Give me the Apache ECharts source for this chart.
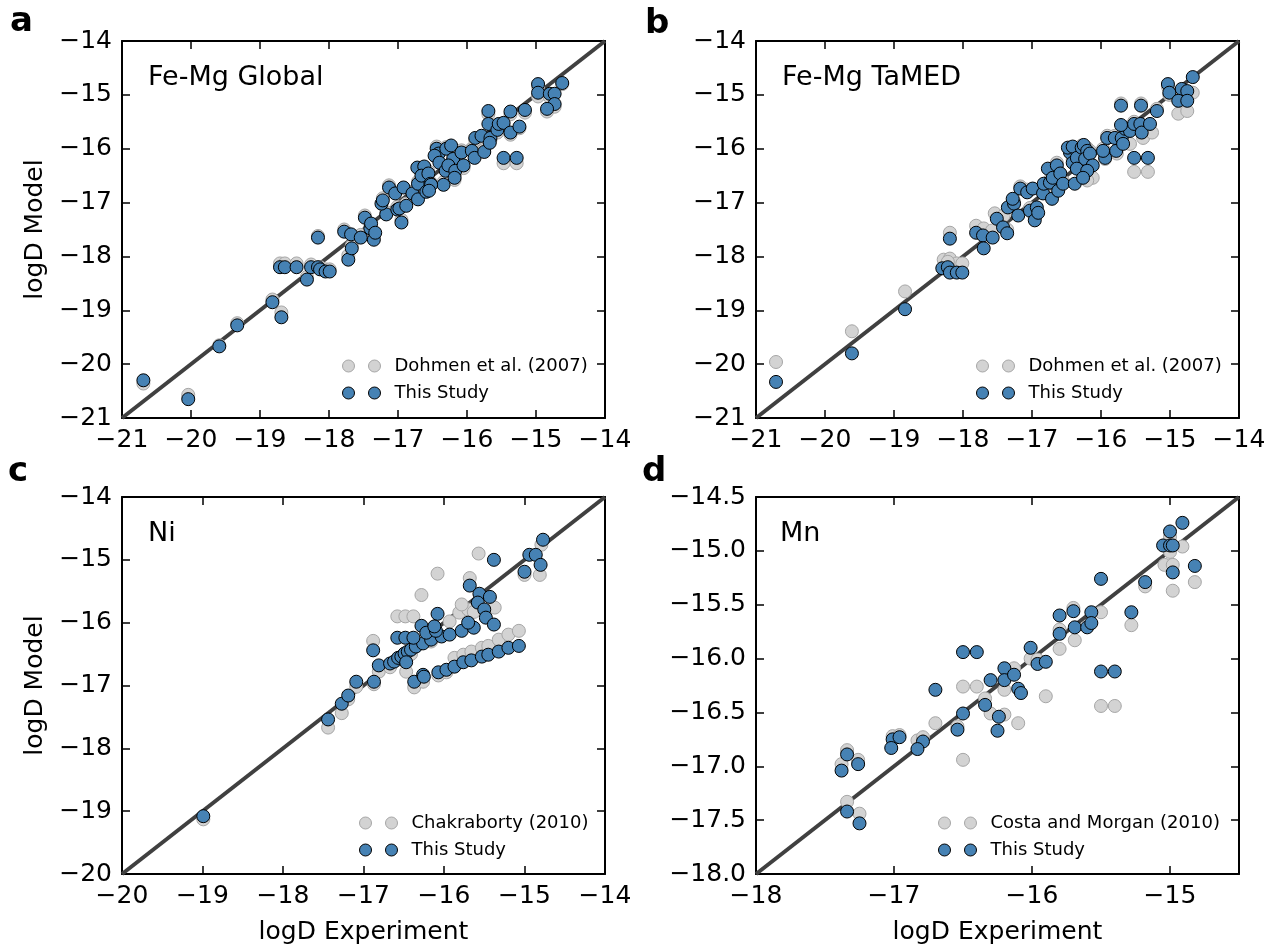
<!DOCTYPE html>
<html>
<head>
<meta charset="utf-8">
<title>logD model vs experiment</title>
<script src="https://cdn.jsdelivr.net/npm/echarts@6/dist/echarts.min.js"></script>
<style>
  html, body { margin: 0; padding: 0; background: #ffffff; }
  #chart { width: 1279px; height: 952px; }
</style>
</head>
<body>
<div id="chart"></div>
<script>
// ---- Panel a: Fe-Mg Global (logD experiment, logD model) ----
const feMgGlobalStudy = [
  [-20.69,-20.30],[-20.04,-20.65],[-19.59,-19.67],[-19.33,-19.28],[-18.82,-18.85],[-18.69,-19.13],
  [-18.71,-18.20],[-18.64,-18.20],[-18.47,-18.20],[-18.32,-18.43],[-18.26,-18.20],[-18.16,-17.65],
  [-18.16,-18.20],[-18.13,-18.24],[-18.05,-18.28],[-17.99,-18.28],[-17.78,-17.54],[-17.72,-18.06],
  [-17.67,-17.85],[-17.68,-17.59],[-17.54,-17.65],[-17.48,-17.28],[-17.40,-17.48],[-17.39,-17.39],
  [-17.35,-17.69],[-17.33,-17.56],[-17.17,-17.22],[-17.24,-17.02],[-17.22,-16.96],[-17.13,-16.72],
  [-17.04,-16.83],[-17.01,-17.13],[-16.95,-17.37],[-16.92,-16.72],[-16.98,-17.11],[-16.88,-17.06],
  [-16.79,-16.83],[-16.71,-16.65],[-16.72,-16.35],[-16.62,-16.33],[-16.66,-16.50],[-16.56,-16.46],
  [-16.53,-16.65],[-16.71,-16.94],[-16.59,-16.80],[-16.34,-16.67],[-16.44,-16.00],[-16.41,-16.09],
  [-16.47,-16.13],[-16.40,-16.26],[-16.30,-16.00],[-16.23,-15.94],[-16.20,-16.19],[-16.31,-16.41],
  [-16.27,-16.31],[-16.17,-16.41],[-16.08,-16.07],[-16.05,-16.31],[-16.18,-16.54],[-15.93,-16.04],
  [-15.89,-16.17],[-15.75,-16.06],[-15.88,-15.80],[-15.79,-15.76],[-15.66,-15.80],[-15.67,-15.89],
  [-15.69,-15.30],[-15.69,-15.54],[-15.56,-15.65],[-15.54,-15.54],[-15.47,-15.52],[-15.37,-15.31],
  [-15.37,-15.70],[-15.24,-15.59],[-15.16,-15.28],[-15.47,-16.17],[-15.28,-16.17],[-14.97,-14.80],
  [-14.97,-14.96],[-14.80,-14.98],[-14.73,-14.98],[-14.73,-15.17],[-14.84,-15.26],[-14.62,-14.78],
  [-16.52,-16.67],[-16.55,-16.78]
];
const feMgGlobalDohmen = [
  [-20.69,-20.36],[-20.04,-20.57],[-19.59,-19.65],[-19.33,-19.24],[-18.82,-18.80],[-18.69,-19.04],
  [-18.71,-18.13],[-18.64,-18.13],[-18.47,-18.13],[-18.32,-18.38],[-18.26,-18.15],[-18.16,-17.62],
  [-18.13,-18.20],[-18.05,-18.24],[-17.99,-18.24],[-17.78,-17.50],[-17.72,-17.98],[-17.67,-17.80],
  [-17.54,-17.60],[-17.48,-17.24],[-17.40,-17.44],[-17.35,-17.64],[-17.17,-17.18],[-17.22,-16.92],
  [-17.13,-16.68],[-17.01,-17.08],[-16.95,-17.32],[-16.88,-17.02],[-16.79,-16.80],[-16.71,-16.61],
  [-16.66,-16.45],[-16.56,-16.42],[-16.53,-16.62],[-16.59,-16.76],[-16.34,-16.62],[-16.44,-15.96],
  [-16.30,-15.97],[-16.20,-16.15],[-16.27,-16.36],[-16.17,-16.46],[-16.08,-16.03],[-16.05,-16.36],
  [-16.18,-16.58],[-15.93,-16.00],[-15.75,-16.02],[-15.88,-15.84],[-15.66,-15.84],[-15.69,-15.36],
  [-15.56,-15.70],[-15.47,-15.57],[-15.37,-15.36],[-15.37,-15.74],[-15.24,-15.62],[-15.16,-15.33],
  [-15.47,-16.27],[-15.28,-16.27],[-14.97,-14.85],[-14.97,-15.03],[-14.80,-15.04],[-14.73,-15.22],
  [-14.84,-15.31],[-14.62,-14.80]
];

// ---- Panel b: Fe-Mg TaMED ----
const feMgTamedStudy = [
  [-20.71,-20.33],[-19.61,-19.80],[-18.84,-18.98],[-18.19,-17.67],[-18.30,-18.22],[-18.22,-18.20],
  [-18.19,-18.30],[-18.09,-18.30],[-18.01,-18.30],[-17.81,-17.56],[-17.71,-17.61],[-17.70,-17.85],
  [-17.57,-17.65],[-17.51,-17.30],[-17.42,-17.46],[-17.36,-17.57],[-17.35,-17.09],[-17.26,-17.02],
  [-17.28,-16.93],[-17.20,-17.24],[-17.17,-16.74],[-17.07,-16.81],[-17.03,-17.15],[-16.96,-17.33],
  [-16.93,-17.09],[-16.91,-17.19],[-16.99,-16.74],[-16.84,-16.83],[-16.83,-16.65],[-16.74,-16.63],
  [-16.71,-16.93],[-16.77,-16.37],[-16.70,-16.54],[-16.64,-16.31],[-16.62,-16.78],[-16.59,-16.46],
  [-16.55,-16.65],[-16.45,-16.07],[-16.48,-15.98],[-16.41,-15.96],[-16.41,-16.26],[-16.35,-16.17],
  [-16.35,-16.37],[-16.28,-15.98],[-16.25,-15.93],[-16.20,-16.04],[-16.23,-16.19],[-16.16,-16.09],
  [-16.12,-16.31],[-16.20,-16.41],[-16.38,-16.65],[-16.26,-16.54],[-15.94,-16.17],[-15.97,-16.04],
  [-15.91,-15.80],[-15.80,-15.80],[-15.78,-16.04],[-15.70,-15.80],[-15.68,-15.91],[-15.65,-15.63],
  [-15.58,-15.67],[-15.71,-15.56],[-15.52,-15.54],[-15.43,-15.54],[-15.41,-15.70],[-15.29,-15.54],
  [-15.71,-15.20],[-15.42,-15.20],[-15.19,-15.30],[-15.52,-16.17],[-15.32,-16.17],[-15.03,-14.80],
  [-15.01,-14.96],[-14.83,-14.89],[-14.75,-14.93],[-14.88,-15.11],[-14.75,-15.11],[-14.67,-14.67]
];
const feMgTamedDohmen = [
  [-20.71,-19.96],[-19.61,-19.39],[-18.84,-18.65],[-18.19,-17.56],[-18.28,-18.06],[-18.19,-18.04],
  [-18.09,-18.13],[-18.01,-18.13],[-18.22,-18.10],[-17.81,-17.43],[-17.70,-17.48],[-17.54,-17.20],
  [-17.41,-17.24],[-17.58,-17.52],[-17.36,-17.50],[-17.26,-16.98],[-17.17,-16.70],[-17.07,-16.76],
  [-17.03,-17.10],[-16.96,-17.28],[-16.84,-16.78],[-16.74,-16.58],[-16.71,-16.88],[-16.64,-16.26],
  [-16.62,-16.72],[-16.55,-16.60],[-16.45,-16.02],[-16.41,-16.20],[-16.35,-16.32],[-16.28,-15.94],
  [-16.20,-15.99],[-16.16,-16.04],[-16.12,-16.54],[-16.20,-16.59],[-16.26,-16.48],[-15.94,-16.19],
  [-15.97,-16.00],[-15.91,-15.76],[-15.77,-16.09],[-15.80,-15.76],[-15.58,-15.91],[-15.70,-15.76],
  [-15.65,-15.60],[-15.52,-15.50],[-15.39,-15.80],[-15.26,-15.70],[-15.52,-16.43],[-15.32,-16.43],
  [-15.19,-15.26],[-15.03,-14.85],[-15.01,-15.00],[-14.88,-15.35],[-14.75,-15.30],[-14.67,-14.96],
  [-14.83,-14.95],[-15.71,-15.16],[-15.42,-15.16]
];

// ---- Panel c: Ni ----
const niStudy = [
  [-18.99,-19.08],[-17.44,-17.54],[-17.27,-17.29],[-17.19,-17.16],[-17.09,-16.94],[-16.87,-16.94],
  [-16.81,-16.68],[-16.88,-16.44],[-16.67,-16.65],[-16.62,-16.62],[-16.57,-16.56],[-16.53,-16.54],
  [-16.49,-16.49],[-16.45,-16.46],[-16.41,-16.43],[-16.35,-16.38],[-16.26,-16.33],[-16.16,-16.27],
  [-16.03,-16.22],[-15.93,-16.19],[-15.78,-16.13],[-15.63,-16.08],[-16.47,-16.63],[-16.58,-16.24],
  [-16.48,-16.24],[-16.38,-16.24],[-16.28,-16.05],[-16.22,-16.16],[-16.10,-16.13],[-16.08,-15.86],
  [-16.12,-16.06],[-15.70,-16.00],[-15.68,-15.41],[-15.56,-15.54],[-15.58,-15.68],[-15.43,-15.59],
  [-15.50,-15.79],[-15.48,-15.92],[-15.38,-16.03],[-15.38,-15.00],[-15.00,-15.19],[-14.94,-14.92],
  [-14.86,-14.92],[-14.80,-15.08],[-14.77,-14.68],
  [-16.37,-16.94],[-16.26,-16.83],[-16.25,-16.86],[-16.07,-16.79],[-15.97,-16.75],[-15.87,-16.70],
  [-15.76,-16.63],[-15.66,-16.60],[-15.53,-16.54],[-15.45,-16.51],[-15.32,-16.46],[-15.20,-16.40],
  [-15.07,-16.37]
];
const niChakraborty = [
  [-18.99,-19.13],[-17.44,-17.67],[-17.27,-17.44],[-17.19,-17.22],[-17.09,-17.02],[-16.87,-16.98],
  [-16.81,-16.78],[-16.88,-16.29],[-16.67,-16.71],[-16.58,-15.90],[-16.48,-15.90],[-16.38,-15.90],
  [-16.28,-15.56],[-16.08,-15.22],[-15.68,-15.29],[-15.57,-14.90],[-15.93,-15.98],[-15.81,-15.84],
  [-15.70,-15.79],[-15.63,-15.83],[-15.78,-15.71],[-15.37,-15.76],[-16.47,-16.78],[-16.37,-17.03],
  [-16.26,-16.94],[-16.07,-16.84],[-15.97,-16.79],[-15.87,-16.56],[-15.76,-16.51],[-15.66,-16.46],
  [-15.53,-16.40],[-15.45,-16.37],[-15.32,-16.27],[-15.20,-16.19],[-15.07,-16.13],[-15.00,-15.24],
  [-14.81,-15.24],[-14.79,-14.76],[-16.53,-16.59],[-16.41,-16.50],[-16.16,-16.30]
];

// ---- Panel d: Mn ----
const mnStudy = [
  [-14.91,-14.74],[-15.00,-14.82],[-15.05,-14.95],[-15.00,-14.95],[-14.98,-14.95],[-14.98,-15.20],
  [-14.82,-15.14],[-15.50,-15.26],[-15.18,-15.29],[-15.80,-15.60],[-15.70,-15.56],[-15.57,-15.57],
  [-15.69,-15.71],[-15.60,-15.71],[-15.57,-15.67],[-15.28,-15.57],[-15.80,-15.77],[-16.01,-15.90],
  [-15.96,-16.05],[-15.90,-16.03],[-15.50,-16.12],[-15.40,-16.12],[-16.50,-15.94],[-16.40,-15.94],
  [-16.20,-16.09],[-16.30,-16.20],[-16.20,-16.20],[-16.13,-16.15],[-16.10,-16.28],[-16.08,-16.32],
  [-16.70,-16.29],[-16.34,-16.43],[-16.50,-16.51],[-16.24,-16.54],[-16.54,-16.66],[-16.25,-16.67],
  [-17.01,-16.75],[-16.96,-16.73],[-17.02,-16.83],[-16.79,-16.77],[-16.83,-16.84],[-17.34,-16.89],
  [-17.38,-17.04],[-17.26,-16.98],[-17.34,-17.42],[-17.25,-17.53]
];
const mnCostaMorgan = [
  [-14.91,-14.96],[-15.04,-15.13],[-14.98,-15.13],[-14.98,-15.37],[-14.82,-15.29],[-15.00,-15.01],
  [-15.00,-14.87],[-15.18,-15.33],[-15.50,-15.57],[-15.28,-15.69],[-15.70,-15.53],[-15.69,-15.83],
  [-15.80,-15.73],[-15.80,-15.91],[-16.01,-16.00],[-15.96,-16.01],[-15.90,-16.35],[-15.50,-16.44],
  [-15.40,-16.44],[-16.50,-16.26],[-16.40,-16.26],[-16.20,-16.29],[-16.13,-16.09],[-16.34,-16.37],
  [-16.30,-16.51],[-16.20,-16.52],[-16.10,-16.60],[-16.70,-16.60],[-16.54,-16.63],[-16.50,-16.94],
  [-17.01,-16.72],[-16.96,-16.71],[-16.83,-16.76],[-16.79,-16.73],[-17.38,-16.98],[-17.34,-16.85],
  [-17.26,-16.94],[-17.34,-17.33],[-17.25,-17.44]
];

// Axis limits and tick settings per panel
const panelTitles = ['Fe-Mg Global', 'Fe-Mg TaMED', 'Ni', 'Mn'];
const panelLetters = ['a', 'b', 'c', 'd'];
const referenceNames = ['Dohmen et al. (2007)', 'Dohmen et al. (2007)', 'Chakraborty (2010)', 'Costa and Morgan (2010)'];
const studyName = 'This Study';
const axisMin = [-21, -21, -20, -18];
const axisMax = [-14, -14, -14, -14.5];
const yInterval = [1, 1, 1, 0.5];
const yDecimals = [0, 0, 0, 1];
const xLabelName = 'logD Experiment';
const yLabelName = 'logD Model';

const studySets = [feMgGlobalStudy, feMgTamedStudy, niStudy, mnStudy];
const referenceSets = [feMgGlobalDohmen, feMgTamedDohmen, niChakraborty, mnCostaMorgan];

const FONT = 'DejaVu Sans';
const BLUE = '#4682b4';
const GRAY = '#d3d3d3';
const GRAY_EDGE = '#a6a6a6';

const grids = [
  { left: 122, top: 41, width: 483, height: 377 },
  { left: 756, top: 41, width: 483, height: 377 },
  { left: 122, top: 497, width: 483, height: 377 },
  { left: 756, top: 497, width: 483, height: 377 }
];

function fmt(decimals, integersOnly) {
  return function (v) {
    if (integersOnly && Math.abs(v - Math.round(v)) > 1e-9) return '';
    const s = Math.abs(v).toFixed(decimals);
    return (v < 0 ? '\u2212' : '') + s;
  };
}

const lineCol = '#000000';
const xAxes = [], yAxes = [], series = [], legends = [], titles = [];

for (let i = 0; i < 4; i++) {
  const common = {
    gridIndex: i, type: 'value', min: axisMin[i], max: axisMax[i],
    splitLine: { show: false },
    axisLine: { show: true, onZero: false, lineStyle: { color: lineCol, width: 2 } },
    axisTick: { show: true, inside: true, length: 8, lineStyle: { color: lineCol, width: 1.5 } }
  };
  const labelStyle = { fontFamily: FONT, fontSize: 25, color: '#000' };
  xAxes.push(Object.assign({}, common, {
    position: 'bottom', interval: 1,
    axisLabel: Object.assign({ show: true, margin: 10, showMinLabel: true, showMaxLabel: true,
      formatter: fmt(0, true) }, labelStyle),
    name: i >= 2 ? xLabelName : '', nameLocation: 'middle', nameGap: 46,
    nameTextStyle: { fontFamily: FONT, fontSize: 25, color: '#000' }
  }));
  xAxes.push(Object.assign({}, common, {
    position: 'top', interval: 1, axisLabel: { show: false }
  }));
  yAxes.push(Object.assign({}, common, {
    position: 'left', interval: yInterval[i],
    axisLabel: Object.assign({ show: true, margin: 10, showMinLabel: true, showMaxLabel: true,
      formatter: fmt(yDecimals[i], false) }, labelStyle),
    name: (i % 2 === 0) ? yLabelName : '', nameLocation: 'middle', nameGap: 74,
    nameTextStyle: { fontFamily: FONT, fontSize: 25, color: '#000' }
  }));
  yAxes.push(Object.assign({}, common, {
    position: 'right', interval: yInterval[i], axisLabel: { show: false }
  }));

  const xi = 2 * i, yi = 2 * i;
  // 1:1 line across the full axis range
  series.push({
    type: 'line', xAxisIndex: xi, yAxisIndex: yi, z: 1, silent: true,
    data: [[axisMin[i], axisMin[i]], [axisMax[i], axisMax[i]]],
    symbol: 'none', lineStyle: { color: '#404040', width: 4 }
  });
  series.push({
    type: 'scatter', name: referenceNames[i], xAxisIndex: xi, yAxisIndex: yi, z: 2,
    data: referenceSets[i], symbolSize: 13,
    itemStyle: { color: GRAY, borderColor: GRAY_EDGE, borderWidth: 1, opacity: 1 }
  });
  series.push({
    type: 'scatter', name: studyName, xAxisIndex: xi, yAxisIndex: yi, z: 3,
    data: studySets[i], symbolSize: 13,
    itemStyle: { color: BLUE, borderColor: '#000', borderWidth: 1, opacity: 1 }
  });
}

// Legends: two markers per entry, lower right of each panel
const twoDots = 'path://M0,6A6,6,0,1,1,12,6A6,6,0,1,1,0,6Z M26,6A6,6,0,1,1,38,6A6,6,0,1,1,26,6Z';
const legendPos = [
  { left: 342, top: 356 }, { left: 976, top: 356 },
  { left: 359, top: 813 }, { left: 938, top: 813 }
];
for (let i = 0; i < 4; i++) {
  legends.push({
    left: legendPos[i].left, top: legendPos[i].top, orient: 'vertical',
    padding: 0, itemGap: 7, itemWidth: 38, itemHeight: 12, selectedMode: false,
    textStyle: { fontFamily: FONT, fontSize: 18, color: '#000', lineHeight: 20, padding: [0, 0, 0, 9] },
    data: [
      { name: referenceNames[i], icon: twoDots,
        itemStyle: { color: GRAY, borderColor: GRAY_EDGE, borderWidth: 1 } },
      { name: studyName, icon: twoDots,
        itemStyle: { color: BLUE, borderColor: '#000', borderWidth: 1 } }
    ]
  });
}

// Panel names and letters
const titlePos = [
  { left: 148, top: 63 }, { left: 782, top: 63 },
  { left: 148, top: 519 }, { left: 780, top: 519 }
];
const letterPos = [
  { left: 10, top: 3 }, { left: 645, top: 5 },
  { left: 8, top: 453 }, { left: 642, top: 453 }
];
for (let i = 0; i < 4; i++) {
  titles.push({
    text: panelTitles[i], left: titlePos[i].left, top: titlePos[i].top, padding: 0,
    textStyle: { fontFamily: FONT, fontSize: 27, fontWeight: 'normal', color: '#000', lineHeight: 30 }
  });
  titles.push({
    text: panelLetters[i], left: letterPos[i].left, top: letterPos[i].top, padding: 0,
    textStyle: { fontFamily: FONT, fontSize: 34, fontWeight: 'bold', color: '#000', lineHeight: 38 }
  });
}

const chart = echarts.init(document.getElementById('chart'), null, { renderer: 'canvas' });
chart.setOption({
  backgroundColor: '#ffffff',
  animation: false,
  title: titles,
  legend: legends,
  grid: grids,
  xAxis: xAxes,
  yAxis: yAxes,
  series: series
});
</script>
</body>
</html>
